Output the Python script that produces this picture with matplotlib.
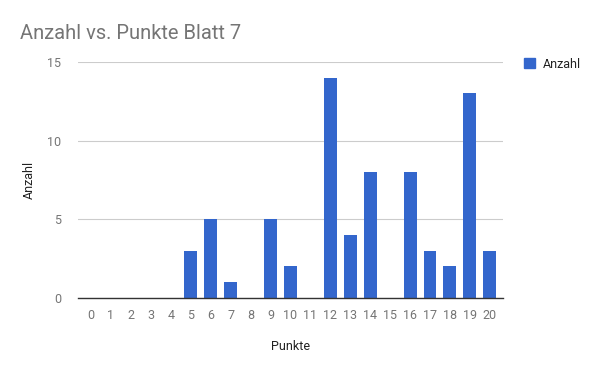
import matplotlib
matplotlib.use("Agg")
import matplotlib.pyplot as plt
from matplotlib.patches import Patch

plt.rcParams["font.family"] = ["Roboto", "DejaVu Sans"]

punkte = list(range(21))
anzahl = [0, 0, 0, 0, 0, 3, 5, 1, 0, 5, 2, 0, 14, 4, 8, 0, 8, 3, 2, 13, 3]
yticks = [0, 5, 10, 15]

blue = "#3366cc"
grey = "#757575"

fig = plt.figure(figsize=(6, 3.71), dpi=100)
ax = fig.add_axes([0.13, 0.197, 0.708, 0.636])

ax.bar(punkte, anzahl, width=0.65, color=blue, zorder=3)

ax.set_xlim(-0.65, 20.65)
ax.set_ylim(0, 15)
ax.set_xticks(punkte)
ax.set_xticklabels([str(p) for p in punkte])
ax.set_yticks(yticks)
ax.grid(axis="y", color="#cccccc", linewidth=0.8, zorder=0)
for s in ["top", "right", "left"]:
    ax.spines[s].set_visible(False)
ax.spines["bottom"].set_color("#333333")
ax.spines["bottom"].set_linewidth(1)
ax.spines["bottom"].set_zorder(4)
ax.tick_params(axis="both", length=0, colors=grey, labelsize=9)
ax.tick_params(axis="x", pad=8)
ax.tick_params(axis="y", pad=12)

ax.set_xlabel("Punkte", fontsize=9, color="#222222", labelpad=13)
ax.set_ylabel("Anzahl", fontsize=9, color="#222222", labelpad=8)

fig.text(0.033, 0.91, "Anzahl vs. Punkte Blatt 7", fontsize=14.5,
         color=grey, ha="left", va="center")

fig.legend(handles=[Patch(color=blue, label="Anzahl")],
           loc="upper left", bbox_to_anchor=(0.855, 0.875), frameon=False,
           fontsize=9, handlelength=0.85, handleheight=0.85,
           labelcolor="#222222", handletextpad=0.6)

fig.savefig("out.png", dpi=100)
